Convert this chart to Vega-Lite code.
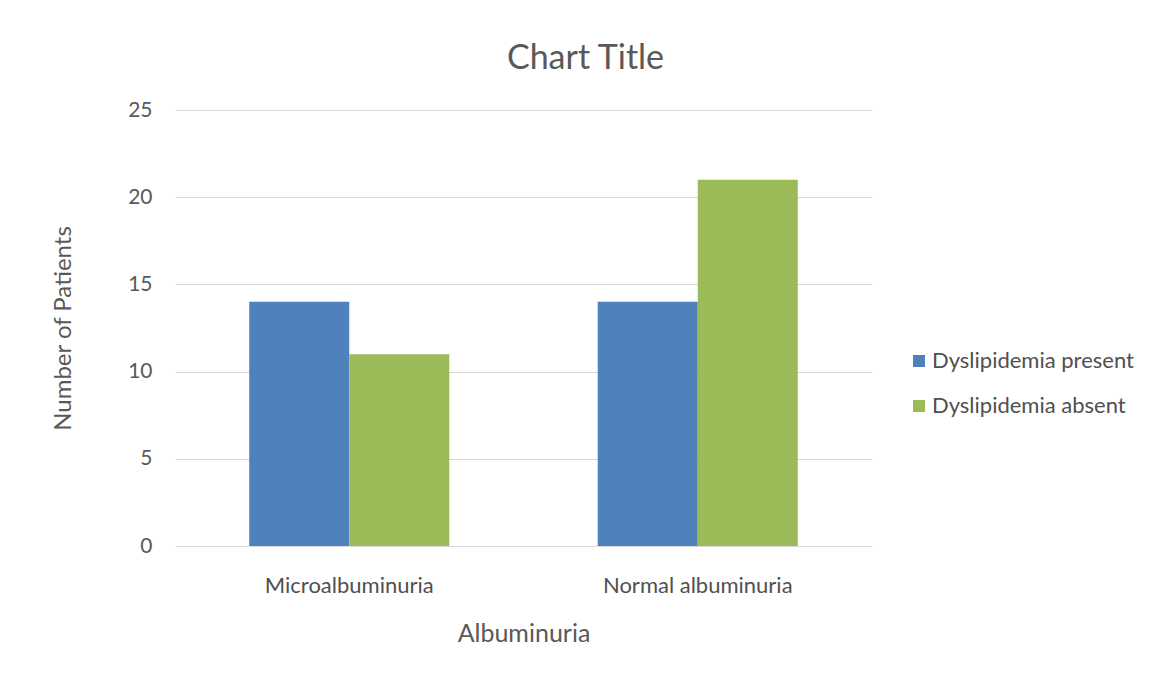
{
  "$schema": "https://vega.github.io/schema/vega-lite/v6.json",
  "autosize": "none",
  "width": 697,
  "height": 436,
  "padding": {"left": 175, "top": 110, "right": 284, "bottom": 131},
  "background": "white",
  "title": {
    "text": "Chart Title",
    "anchor": "middle",
    "dx": 62,
    "offset": 23,
    "fontSize": 34,
    "font": "Lato",
    "fontWeight": "normal",
    "color": "#595959"
  },
  "data": {
    "values": [
      {"albuminuria": "Microalbuminuria", "group": "Dyslipidemia present", "patients": 14},
      {"albuminuria": "Microalbuminuria", "group": "Dyslipidemia absent", "patients": 11},
      {"albuminuria": "Normal albuminuria", "group": "Dyslipidemia present", "patients": 14},
      {"albuminuria": "Normal albuminuria", "group": "Dyslipidemia absent", "patients": 21}
    ]
  },
  "mark": {"type": "bar"},
  "encoding": {
    "x": {
      "field": "albuminuria",
      "type": "nominal",
      "title": "Albuminuria",
      "sort": ["Microalbuminuria", "Normal albuminuria"],
      "scale": {"paddingInner": 0.426, "paddingOuter": 0.213},
      "axis": {
        "labelAngle": 0,
        "domain": false,
        "ticks": false,
        "labelPadding": 29,
        "labelFontSize": 22,
        "labelLimit": 400,
        "labelFont": "Lato",
        "labelColor": "#505050",
        "titleFont": "Lato",
        "titleFontSize": 25,
        "titleFontWeight": "normal",
        "titleColor": "#595959",
        "titlePadding": 25
      }
    },
    "xOffset": {
      "field": "group",
      "type": "nominal",
      "sort": ["Dyslipidemia present", "Dyslipidemia absent"],
      "scale": {"paddingInner": 0, "paddingOuter": 0}
    },
    "y": {
      "field": "patients",
      "type": "quantitative",
      "title": "Number of Patients",
      "scale": {"domain": [0, 25], "nice": false},
      "axis": {
        "values": [0, 5, 10, 15, 20, 25],
        "domain": false,
        "ticks": false,
        "grid": true,
        "gridColor": "#d9d9d9",
        "gridWidth": 1,
        "labelPadding": 23,
        "labelFontSize": 21,
        "labelFont": "Lato",
        "labelColor": "#595959",
        "titleFont": "Lato",
        "titleFontSize": 24,
        "titleFontWeight": "normal",
        "titleColor": "#595959",
        "titlePadding": 52
      }
    },
    "color": {
      "field": "group",
      "type": "nominal",
      "sort": ["Dyslipidemia present", "Dyslipidemia absent"],
      "scale": {
        "domain": ["Dyslipidemia present", "Dyslipidemia absent"],
        "range": ["#4f81bd", "#9bbb59"]
      },
      "legend": {
        "title": null,
        "orient": "none",
        "legendX": 733,
        "legendY": 240,
        "symbolType": "square",
        "symbolSize": 144,
        "symbolStrokeWidth": 0,
        "labelFont": "Lato",
        "labelFontSize": 22,
        "labelLimit": 400,
        "labelColor": "#505050",
        "labelOffset": 2,
        "rowPadding": 23
      }
    }
  },
  "config": {
    "view": {"stroke": null}
  }
}
